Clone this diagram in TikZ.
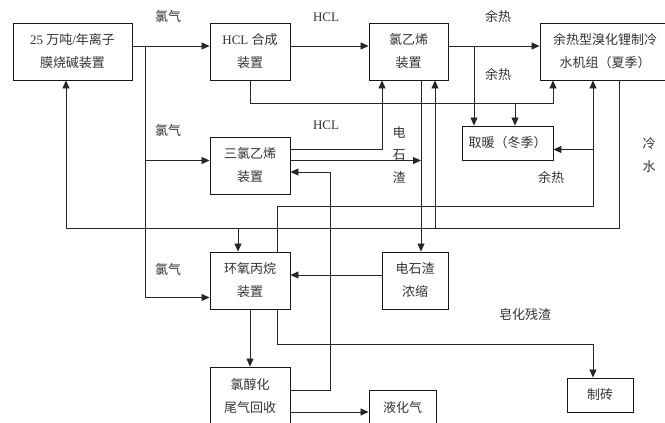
\documentclass[tikz,border=0pt]{standalone}
\usepackage{fontspec}
\setmainfont{Liberation Serif}
\newfontfamily\cjk{Noto Sans CJK SC}
\usetikzlibrary{arrows.meta}
\newcommand\lt[1]{{\rmfamily #1}}
\begin{document}
\begin{tikzpicture}[x=1pt,y=-1pt,
  box/.style={draw=black!90, line width=0.9pt, minimum height=57pt, align=center, inner sep=0pt, font=\cjk\fontsize{13}{23}\selectfont, text=black!80},
  lbl/.style={font=\cjk\fontsize{13}{22.5}\selectfont, align=center, inner sep=0pt, text=black!80},
  ln/.style={draw=black!85, line width=0.8pt},
  arr/.style={ln, -{Triangle[length=8pt,width=7pt]}}
]
\useasboundingbox (0,0) rectangle (665,423);
\clip (0,0) rectangle (665,423);
% boxes
\node[box, minimum width=119pt] (A) at (72.5,51.5) {\lt{25 }万吨\lt{/}年离子\\膜烧碱装置};
\node[box, minimum width=80pt] (B) at (250,51.5) {\lt{HCL }合成\\装置};
\node[box, minimum width=79pt] (C) at (408.5,51.5) {氯乙烯\\装置};
\node[box, minimum width=130pt] (D) at (605,51.5) {余热型溴化锂制冷\\水机组（夏季）};
\node[box, minimum width=91pt, minimum height=34pt] (E) at (507.5,143) {取暖（冬季）};
\node[box, minimum width=80pt] (F) at (250,165.5) {三氯乙烯\\装置};
\node[box, minimum width=80pt] (G) at (250,280.5) {环氧丙烷\\装置};
\node[box, minimum width=66pt] (H) at (415,280.5) {电石渣\\浓缩};
\node[box, minimum width=80pt, minimum height=58pt] (I) at (250,396) {氯醇化\\尾气回收};
\node[box, minimum width=67pt, minimum height=35pt] (J) at (402.5,407.5) {液化气};
\node[box, minimum width=66pt, minimum height=34pt] (K) at (600,395) {制砖};
% coordinates
\coordinate (clA) at (145,46);
\coordinate (clF) at (145,160.5);
\coordinate (clG) at (145,297.5);
\coordinate (hE1) at (474,46);
\coordinate (b103) at (250,103);
\coordinate (e103) at (515,103);
\coordinate (d103) at (553,103);
\coordinate (fc) at (382,149.5);
\coordinate (fh) at (421,160.5);
\coordinate (cw1) at (619,228);
\coordinate (cw0) at (66,228);
\coordinate (cwG) at (238,228);
\coordinate (cwC) at (435,228);
\coordinate (gd0) at (277,206);
\coordinate (gd1) at (593,206);
\coordinate (gdE) at (593,149.5);
\coordinate (if0) at (330,390);
\coordinate (if1) at (330,172);
\coordinate (ij) at (300,412);
\coordinate (hg) at (300,275);
\coordinate (gk0) at (277,344);
\coordinate (gk1) at (593,344);
% chlorine
\draw[arr] (A.east |- clA) -- (B.west |- clA);
\draw[arr] (clA) -- (clG) -- (G.west |- clG);
\draw[arr] (clF) -- (F.west |- clF);
% HCL
\draw[arr] (B.east |- clA) -- (C.west |- clA);
% waste heat
\draw[arr] (C.east |- clA) -- (D.west |- clA);
\draw[arr] (hE1) -- (hE1 |- E.north);
\draw[arr] (B.south) -- (b103) -- (d103) -- (d103 |- D.south);
\draw[arr] (e103) -- (e103 |- E.north);
% trichloroethylene
\draw[arr] (F.east |- fc) -- (fc) -- (fc |- C.south);
\draw[arr] (F.east |- fh) -- (fh);
\draw[arr] (C.south -| fh) -- (H.north -| fh);
% cold water
\draw[arr] (D.south -| cw1) -- (cw1) -- (cw0) -- (cw0 |- A.south);
\draw[arr] (cwG) -- (cwG |- G.north);
\draw[arr] (cwC) -- (cwC |- C.south);
% G to D
\draw[arr] (G.north -| gd0) -- (gd0) -- (gd1) -- (gd1 |- D.south);
\draw[arr] (gdE) -- (E.east |- gdE);
% I to F, I to J
\draw[arr] (I.east |- if0) -- (if0) -- (if1) -- (F.east |- if1);
\draw[arr] (I.east |- ij) -- (J.west |- ij);
\draw[arr] (G.south) -- (I.north);
\draw[arr] (H.west |- hg) -- (G.east |- hg);
\draw[arr] (G.south -| gk0) -- (gk0) -- (gk1) -- (K.north -| gk1);
% labels
\node[lbl] (l1) at (168,17) {氯气};
\node[lbl] (l2) at (326,17) {\lt{HCL}};
\node[lbl] (l3) at (498,17) {余热};
\node[lbl] (l4) at (498,75) {余热};
\node[lbl] (l5) at (168,131) {氯气};
\node[lbl] (l6) at (326,125) {\lt{HCL}};
\node[lbl] (l7) at (399,154.5) {电\\石\\渣};
\node[lbl] (l8) at (649,155) {冷\\水};
\node[lbl] (l9) at (551,178) {余热};
\node[lbl] (l10) at (168,270) {氯气};
\node[lbl] (l11) at (525,315) {皂化残渣};
\end{tikzpicture}
\end{document}
